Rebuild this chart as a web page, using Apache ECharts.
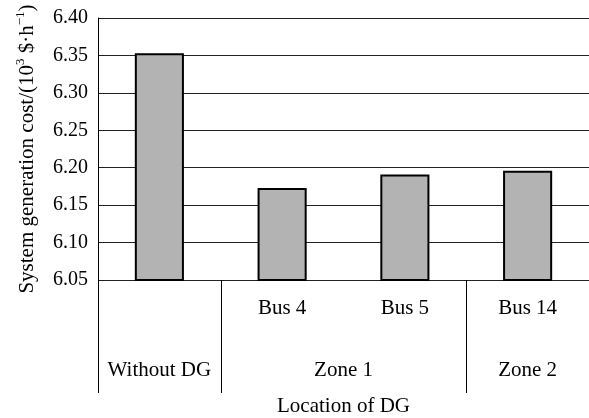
<!DOCTYPE html>
<html>
<head>
<meta charset="utf-8">
<script src="https://cdn.jsdelivr.net/npm/echarts@6/dist/echarts.min.js"></script>
<style>
html,body{margin:0;padding:0;background:#fff;}
#chart{width:589px;height:418px;}
</style>
</head>
<body>
<div id="chart"></div>
<script>
// Data
var categories = ['', 'Bus 4', 'Bus 5', 'Bus 14'];
var values = [6.353, 6.173, 6.191, 6.196];
var groupNames = ['Without DG', 'Zone 1', 'Zone 2'];
var groupSpans = [1, 2, 1];
var yTicks = ['6.05', '6.10', '6.15', '6.20', '6.25', '6.30', '6.35', '6.40'];

// derived group positions on a 0..N value axis aligned with the category bands
var groupCenters = [], groupStarts = [], acc = 0;
for (var i = 0; i < groupSpans.length; i++) {
  groupStarts.push(acc);
  groupCenters.push(acc + groupSpans[i] / 2);
  acc += groupSpans[i];
}

var FONT = 'Liberation Serif';
var FS = 21;

var chart = echarts.init(document.getElementById('chart'));
chart.setOption({
  backgroundColor: '#fff',
  animation: false,
  grid: { left: 98, right: 0, top: 18, bottom: 138, containLabel: false, outerBoundsMode: 'none' },
  xAxis: [
    {
      type: 'category',
      data: categories,
      position: 'bottom',
      axisLine: { show: false },
      axisTick: { show: false },
      axisLabel: { color: '#000', fontFamily: FONT, fontSize: FS, margin: 18, interval: 0 }
    },
    {
      type: 'value',
      min: 0,
      max: categories.length,
      position: 'bottom',
      axisLine: { show: false },
      splitLine: { show: false },
      axisTick: {
        show: true,
        customValues: groupStarts,
        length: 113,
        lineStyle: { color: '#000', width: 1 }
      },
      axisLabel: {
        show: true,
        customValues: groupCenters,
        color: '#000', fontFamily: FONT, fontSize: FS, margin: 80,
        formatter: function (v) {
          for (var i = 0; i < groupCenters.length; i++) {
            if (Math.abs(groupCenters[i] - v) < 1e-6) return groupNames[i];
          }
          return '';
        }
      },
      name: 'Location of DG',
      nameLocation: 'middle',
      nameGap: 116,
      nameTextStyle: { color: '#000', fontFamily: FONT, fontSize: FS }
    }
  ],
  yAxis: {
    type: 'value',
    min: 6.05,
    max: 6.40,
    interval: 0.05,
    axisLine: { show: true, lineStyle: { color: '#000', width: 1 } },
    axisTick: { show: false },
    axisLabel: {
      color: '#000', fontFamily: FONT, fontSize: 20, margin: 10,
      formatter: function (v) {
        var idx = Math.round((v - 6.05) / 0.05);
        return yTicks[idx] !== undefined ? yTicks[idx] : v.toFixed(2);
      }
    },
    splitLine: { show: true, lineStyle: { color: '#222', width: 1 } },
    name: '{a|System generation cost/(10}{s|3}{a| $·h}{s|−1}{a|)}',
    nameLocation: 'middle',
    nameGap: 60,
    nameRotate: 90,
    nameTextStyle: {
      color: '#000', fontFamily: FONT, fontSize: FS,
      rich: {
        a: { color: '#000', fontFamily: FONT, fontSize: FS, lineHeight: 24, verticalAlign: 'bottom' },
        s: { color: '#000', fontFamily: FONT, fontSize: 13, lineHeight: 14, verticalAlign: 'top' }
      }
    }
  },
  series: [{
    type: 'bar',
    data: values,
    barWidth: '40%',
    itemStyle: { color: '#b3b3b3', borderColor: '#000', borderWidth: 2 }
  }]
});
</script>
</body>
</html>
